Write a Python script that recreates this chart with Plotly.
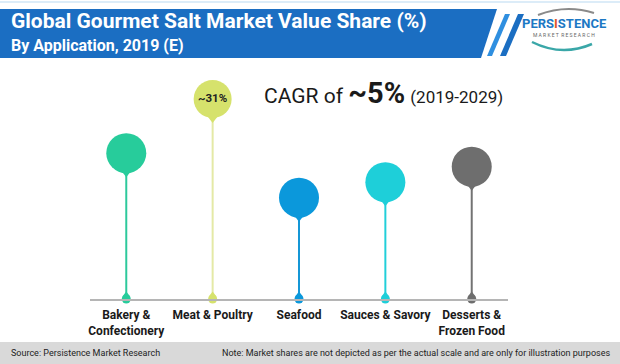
import plotly.graph_objects as go

# ---- data ----
categories = ["Bakery &<br>Confectionery", "Meat & Poultry", "Seafood", "Sauces & Savory", "Desserts &<br>Frozen Food"]
values = [22.6, 31.0, 15.7, 18.1, 20.5]
value_labels = ["", "~31%", "", "", ""]
bubble_colors = ["#27cc9b", "#d6e26c", "#0b98db", "#1ecfd9", "#6e6e6e"]
stem_colors = ["#2dc99c", "#e4e9a6", "#1597d6", "#22cfd9", "#737373"]

title_text = "Global Gourmet Salt Market Value Share (%)"
subtitle_text = "By Application, 2019 (E)"
source_text = "Source: Persistence Market Research"
note_text = "Note: Market shares are not depicted as per the actual scale and are only for illustration purposes"

# ---- layout geometry ----
W, H = 620, 364
ML, MR, MT, MB = 90, 112, 70, 65
PW, PH = W - ML - MR, H - MT - MB
YMAX = 35.5
px_per_unit = PH / YMAX


def px(x):
    return (x - ML) / PW


def py(y):
    return (H - MB - y) / PH


FONT = "Roboto, Arial"

fig = go.Figure()
xs = list(range(len(categories)))

# stems
for i, (c, v, col) in enumerate(zip(categories, values, stem_colors)):
    fig.add_trace(go.Scatter(x=[i, i], y=[0, v], mode="lines",
                             line=dict(color=col, width=2), hoverinfo="skip",
                             showlegend=False, cliponaxis=False))

# bottom drops
fig.add_trace(go.Scatter(x=xs, y=[0] * len(xs), mode="markers",
                         marker=dict(symbol="circle", size=9, color=bubble_colors, opacity=1),
                         showlegend=False, cliponaxis=False, hoverinfo="skip"))
fig.add_trace(go.Scatter(x=xs, y=[4 / px_per_unit] * len(xs), mode="markers",
                         marker=dict(symbol="triangle-up", size=7, color=bubble_colors, opacity=1),
                         showlegend=False, cliponaxis=False, hoverinfo="skip"))

# pin tips below bubbles
tip_y = [v - 19 / px_per_unit for v in values]
fig.add_trace(go.Scatter(x=xs, y=tip_y, mode="markers",
                         marker=dict(symbol="triangle-down", size=10, color=bubble_colors, opacity=1),
                         showlegend=False, cliponaxis=False, hoverinfo="skip"))

# bubbles
fig.add_trace(go.Scatter(x=xs, y=values, mode="markers+text",
                         marker=dict(symbol="circle", size=[40, 38, 40, 40, 40], color=bubble_colors,
                                     opacity=1, line=dict(width=0)),
                         text=["<b>%s</b>" % t if t else "" for t in value_labels],
                         textposition="middle center",
                         textfont=dict(family=FONT, size=11.5, color="#222222"),
                         showlegend=False, cliponaxis=False, hoverinfo="skip"))

shapes = []
# banner
shapes.append(dict(type="path", xref="paper", yref="paper",
                   path="M %f %f L %f %f L %f %f L %f %f Z" % (
                       px(0), py(9), px(497), py(9), px(481), py(58), px(0), py(58)),
                   fillcolor="#1b6ec2", line=dict(width=0), layer="below"))
# thin top border
shapes.append(dict(type="line", xref="paper", yref="paper",
                   x0=px(0), x1=px(620), y0=py(2), y1=py(2),
                   line=dict(color="#dcecf8", width=2)))
# stripes
shapes.append(dict(type="path", xref="paper", yref="paper",
                   path="M %f %f L %f %f L %f %f L %f %f Z" % (
                       px(505), py(14), px(510), py(14), px(492), py(56), px(487), py(56)),
                   fillcolor="#2f8fe0", line=dict(width=0)))
shapes.append(dict(type="path", xref="paper", yref="paper",
                   path="M %f %f L %f %f L %f %f L %f %f Z" % (
                       px(518), py(14), px(524), py(14), px(506), py(56), px(500), py(56)),
                   fillcolor="#1b6ec2", line=dict(width=0)))
# logo swooshes
shapes.append(dict(type="path", xref="paper", yref="paper",
                   path="M %f %f Q %f %f %f %f" % (px(538), py(15), px(566), py(4), px(594), py(13)),
                   line=dict(color="#8a8a8a", width=2)))
shapes.append(dict(type="path", xref="paper", yref="paper",
                   path="M %f %f Q %f %f %f %f" % (px(532), py(42), px(562), py(57), px(592), py(44)),
                   line=dict(color="#3aa7a8", width=2.5)))
# footer
shapes.append(dict(type="rect", xref="paper", yref="paper",
                   x0=px(0), x1=px(620), y0=py(342), y1=py(364),
                   fillcolor="#d9d9d9", line=dict(width=0), layer="below"))

annotations = [
    dict(xref="paper", yref="paper", x=px(9), y=py(21), xanchor="left", yanchor="middle",
         text="<b>%s</b>" % title_text, showarrow=False,
         font=dict(family=FONT, size=21, color="white")),
    dict(xref="paper", yref="paper", x=px(9), y=py(45), xanchor="left", yanchor="middle",
         text="<b>%s</b>" % subtitle_text, showarrow=False,
         font=dict(family=FONT, size=16, color="white")),
    dict(xref="paper", yref="paper", x=px(564), y=py(24), xanchor="center", yanchor="middle",
         text="<b>PERS<span style='color:#e0552b'>I</span>STENCE</b>", showarrow=False,
         font=dict(family=FONT, size=13, color="#1c78c4")),
    dict(xref="paper", yref="paper", x=px(564), y=py(35), xanchor="center", yanchor="middle",
         text="M A R K E T  R E S E A R C H", showarrow=False,
         font=dict(family=FONT, size=5, color="#666666")),
    dict(xref="paper", yref="paper", x=px(262), y=py(93), xanchor="left", yanchor="middle",
         text="CAGR of <b><span style='font-size:29px'>~5%</span></b> <span style='font-size:17px'>(2019-2029)</span>",
         showarrow=False, font=dict(family=FONT, size=21, color="#1a1a1a")),
    dict(xref="paper", yref="paper", x=px(9), y=py(353), xanchor="left", yanchor="middle",
         text=source_text, showarrow=False, font=dict(family=FONT, size=9, color="#222222")),
    dict(xref="paper", yref="paper", x=px(612), y=py(353), xanchor="right", yanchor="middle",
         text=note_text, showarrow=False, font=dict(family=FONT, size=9, color="#222222")),
]

fig.update_layout(
    width=W, height=H,
    margin=dict(l=ML, r=MR, t=MT, b=MB),
    paper_bgcolor="white", plot_bgcolor="white",
    shapes=shapes, annotations=annotations,
    xaxis=dict(range=[-0.42, len(categories) - 0.58], tickmode="array", tickvals=xs,
               ticktext=["<b>%s</b>" % c for c in categories],
               showgrid=False, zeroline=False, showline=True, linecolor="#b5b5b5", linewidth=2,
               ticks="", ticklabelstandoff=4,
               tickfont=dict(family=FONT, size=12, color="#1a1a1a"), fixedrange=True),
    yaxis=dict(range=[0, YMAX], visible=False, fixedrange=True),
    showlegend=False,
)

fig.write_html("out.html", config={"displayModeBar": False},
               post_script="document.body.style.margin='0';")
